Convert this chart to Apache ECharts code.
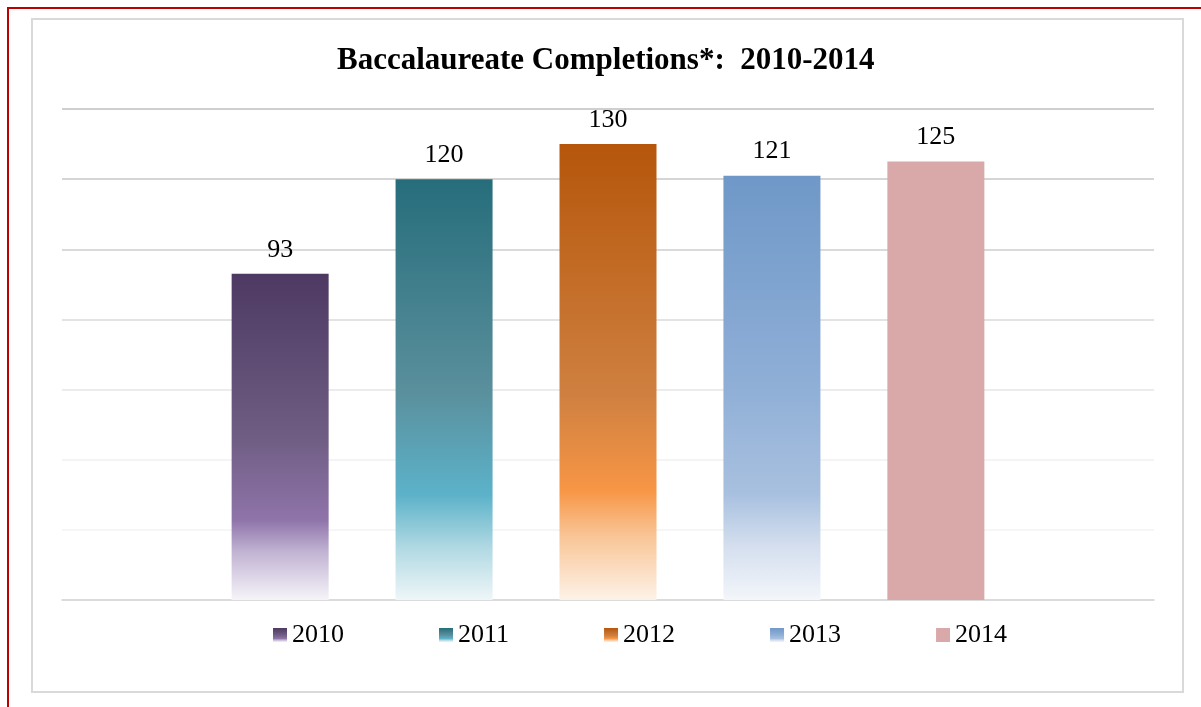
<!DOCTYPE html>
<html>
<head>
<meta charset="utf-8">
<title>Baccalaureate Completions</title>
<script src="https://cdn.jsdelivr.net/npm/echarts@6/dist/echarts.min.js"></script>
<style>
  html, body { margin: 0; padding: 0; background: #fff; }
  #main { width: 1201px; height: 707px; }
</style>
</head>
<body>
<div id="main"></div>
<script>
// data
var categories = ['Completions'];
var years = ['2010', '2011', '2012', '2013', '2014'];
var completions = [93, 120, 130, 121, 125];

// gradient stops per year (top -> bottom of each bar)
var barStops = [
  [[0, '#4d3962'], [0.5, '#6f5d83'], [0.755, '#8f74aa'], [0.85, '#c0b2d2'], [1, '#f6f4f9']],
  [[0, '#266d7b'], [0.5, '#5a8f9c'], [0.75, '#5cb2c9'], [0.88, '#b3dae4'], [1, '#eef6f8']],
  [[0, '#b5560b'], [0.55, '#cf8040'], [0.76, '#f79646'], [0.86, '#f9c596'], [1, '#fdf2e8']],
  [[0, '#6f98c8'], [0.48, '#8eaed6'], [0.75, '#a8c0df'], [0.87, '#d3deee'], [1, '#f3f6fa']],
  [[0, '#d9a9aa'], [1, '#d9a9aa']]
];

var font = 'Liberation Serif, Times New Roman, serif';

function grad(stops) {
  return new echarts.graphic.LinearGradient(0, 0, 0, 1,
    stops.map(function (s) { return { offset: s[0], color: s[1] }; }));
}

var chart = echarts.init(document.getElementById('main'), null, { renderer: 'canvas' });

var series = years.map(function (y, i) {
  return {
    name: y,
    type: 'bar',
    data: [completions[i]],
    barWidth: 97,
    barGap: '69%',
    itemStyle: { color: grad(barStops[i]) },
    label: {
      show: true,
      position: 'top',
      distance: 11,
      color: '#000',
      fontFamily: font,
      fontSize: 26
    },
    emphasis: { disabled: true }
  };
});

var option = {
  backgroundColor: '#fff',
  animation: false,
  title: {
    text: 'Baccalaureate Completions*:  2010-2014',
    left: 337,
    top: 45,
    padding: 0,
    textStyle: {
      fontFamily: font,
      fontWeight: 'bold',
      fontSize: 31,
      color: '#000'
    }
  },
  legend: {
    data: years,
    left: 273,
    top: 622,
    padding: 0,
    icon: 'rect',
    itemWidth: 14,
    itemHeight: 14,
    itemGap: 95,
    textStyle: { fontFamily: font, fontSize: 26, color: '#000', padding: [0, 0, 0, 0] }
  },
  grid: { left: 62, right: 47, top: 109, bottom: 107, containLabel: false },
  xAxis: {
    type: 'category',
    data: categories,
    axisLine: { show: true, lineStyle: { color: '#d9d9d9', width: 1.5 } },
    axisTick: { show: false },
    axisLabel: { show: false }
  },
  yAxis: {
    type: 'value',
    min: 0,
    max: 140,
    interval: 20,
    axisLine: { show: false },
    axisTick: { show: false },
    axisLabel: { show: false },
    splitLine: {
      lineStyle: {
        width: 1.5,
        color: ['#d9d9d9', '#f3f3f3', '#f0f0f0', '#e6e6e6', '#dadada', '#cecece', '#c7c7c7', '#bfbfbf']
      }
    }
  },
  graphic: [
    {
      type: 'rect',
      z: -10,
      shape: { x: 32, y: 19, width: 1151, height: 673 },
      style: { fill: 'none', stroke: '#d9d9d9', lineWidth: 2 }
    },
    {
      type: 'rect',
      z: -10,
      shape: { x: 8, y: 8, width: 1300, height: 800 },
      style: { fill: 'none', stroke: '#c00000', lineWidth: 2 }
    }
  ],
  series: series
};

chart.setOption(option);
</script>
</body>
</html>
